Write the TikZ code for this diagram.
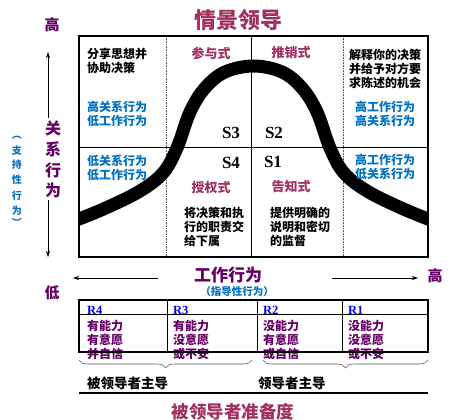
\documentclass[tikz,border=0pt]{standalone}
\usepackage{fontspec}
\setmainfont{Noto Sans CJK SC}
\newfontfamily\serifb{Liberation Serif}
\usetikzlibrary{arrows.meta,decorations.pathreplacing}
\definecolor{mag}{RGB}{160,48,96}
\definecolor{pur}{RGB}{102,0,102}
\definecolor{blu}{RGB}{0,112,192}
\definecolor{rblue}{RGB}{0,0,255}
\newcommand\myfs[2]{\fontsize{#1}{#2}\selectfont}
\tikzset{
  txt/.style={inner sep=0pt},
  blkl/.style={txt, align=left, anchor=north west, font=\bfseries\myfs{12}{14}},
  blul/.style={blkl, text=blu},
  bluc/.style={txt, align=center, anchor=north, text=blu, font=\bfseries\myfs{12}{14}},
  sty/.style={txt, text=mag, font=\bfseries\myfs{13}{15}},
  slab/.style={txt, font=\serifb\bfseries\myfs{17}{19}},
  rlab/.style={txt, anchor=west, text=rblue, font=\serifb\bfseries\myfs{12.5}{14}},
  rtxt/.style={txt, anchor=west, text=pur, font=\bfseries\myfs{12}{14}},
  big/.style={txt, text=pur, font=\bfseries\myfs{16}{18}},
  vblu/.style={txt, text=blu, font=\bfseries\myfs{10}{12}},
  axarrow/.style={line width=0.7pt, -{Stealth[length=6pt,width=4pt]}},
  brc/.style={draw=gray!70!black, line width=0.6pt, decorate, decoration={brace, amplitude=8pt, mirror}},
}
\begin{document}
\begin{tikzpicture}[x=1pt,y=-1pt]
\useasboundingbox (0,0) rectangle (463,420);

% title
\node[txt, text=mag, font=\bfseries\myfs{22}{24}] (title) at (238,20) {情景领导};

% left axis
\node[big, font=\bfseries\myfs{15}{17}] (hi1) at (52,25) {高};
\node[big] (v1) at (53,128) {关};
\node[big] (v2) at (53,149) {系};
\node[big] (v3) at (53,170) {行};
\node[big] (v4) at (53,190) {为};
\coordinate (upTip) at (48,52);
\coordinate (dnTip) at (48,257);
\draw[axarrow] (48,118) -- (upTip);
\draw[axarrow] (48,200) -- (dnTip);

\node[vblu] (b0) at (17,138) {︵};
\node[vblu] (b1) at (17,151) {支};
\node[vblu] (b2) at (17,165) {持};
\node[vblu] (b3) at (17,180) {性};
\node[vblu] (b4) at (17,196) {行};
\node[vblu] (b5) at (17,211) {为};
\node[vblu] (b6) at (17,222) {︶};

% grid
\draw[gray!70!black, densely dotted, line width=0.6pt] (166,36) -- (166,257);
\draw[gray!70!black, densely dotted, line width=0.6pt] (343,36) -- (343,257);

% curve
\begin{scope}
\clip (79,36) rectangle (428,257);
\draw[line width=13pt] plot[smooth, tension=0.6] coordinates {(66,223) (79,219) (108,207) (140,191) (163,173) (177,148) (190,112) (205,88) (225,72) (253.5,66) (282,72) (302,88) (317,112) (330,148) (344,173) (367,191) (399,207) (428,219) (441,223)};
\end{scope}

\draw[line width=1pt] (251,36) -- (251,257);
\draw[line width=1pt] (79,147) -- (428,147);
\draw[line width=2pt] (79,36) rectangle (428,257);

% box texts
\node[blkl] (t1) at (87,48) {分享思想并\\协助决策};
\node[blul] (t2) at (87,101) {高关系行为\\低工作行为};
\node[blul] (t3) at (87,155) {低关系行为\\低工作行为};
\node[blkl] (t4) at (349,49) {解释你的决策\\并给予对方要\\求陈述的机会};
\node[bluc] (t5) at (385,101) {高工作行为\\高关系行为};
\node[bluc] (t6) at (385,154) {高工作行为\\低关系行为};
\node[blkl] (t7) at (184,207) {将决策和执\\行的职责交\\给下属};
\node[blkl] (t8) at (270,207) {提供明确的\\说明和密切\\的监督};

\node[sty] (s1) at (211,53) {参与式};
\node[sty] (s2) at (291,53) {推销式};
\node[sty] (s3) at (211,188) {授权式};
\node[sty] (s4) at (291,187) {告知式};

\node[slab] (S3) at (231,133) {S3};
\node[slab] (S2) at (274,133) {S2};
\node[slab] (S4) at (231,163) {S4};
\node[slab] (S1) at (273,162) {S1};

% horizontal axis
\node[big, font=\bfseries\myfs{17}{19}] (work) at (228,275) {工作行为};
\coordinate (leftTip) at (73,278);
\coordinate (rightTip) at (418,278);
\draw[axarrow] (158,278) -- (leftTip);
\draw[axarrow] (332,278) -- (rightTip);
\node[big, font=\bfseries\myfs{15}{17}] (hi2) at (435,276) {高};
\node[big, font=\bfseries\myfs{15}{17}] (lo) at (52,293) {低};
\node[txt, text=blu, font=\bfseries\myfs{10.5}{12}] (dir) at (237,292) {（指导性行为）};

% table
\node[rlab] (R4) at (87,310) {R4};
\node[rlab] (R3) at (173,310) {R3};
\node[rlab] (R2) at (263,310) {R2};
\node[rlab] (R1) at (348,310) {R1};
\foreach \x/\a/\b/\c [count=\i] in {87/有能力/有意愿/并自信, 173/有能力/没意愿/或不安, 263/没能力/有意愿/或自信, 348/没能力/没意愿/或不安}{
  \node[rtxt] (ra\i) at (\x,326) {\a};
  \node[rtxt] (rb\i) at (\x,340) {\b};
  \node[rtxt] (rc\i) at (\x,354) {\c};
}
\draw[line width=1pt] (79,314) -- (428,314);
\draw[line width=1pt] (167,300) -- (167,352);
\draw[line width=1pt] (257,300) -- (257,352);
\draw[line width=1pt] (342,300) -- (342,352);
\draw[line width=2pt] (79,300) rectangle (428,352);

% braces
\coordinate (bA) at (79,360);
\coordinate (bB) at (252,360);
\coordinate (bC) at (263,360);
\coordinate (bD) at (428,360);
\draw[brc] (bA) -- (bB);
\draw[brc] (bC) -- (bD);

\node[txt, anchor=west, font=\bfseries\myfs{13.5}{15}] (f1) at (87,383) {被领导者主导};
\node[txt, anchor=west, font=\bfseries\myfs{13.5}{15}] (f2) at (258,383) {领导者主导};
\draw[line width=2pt] (79,393) -- (428,393);
\node[txt, text=mag, font=\bfseries\myfs{17.5}{19}] (ready) at (233,412) {被领导者准备度};
\end{tikzpicture}
\end{document}
